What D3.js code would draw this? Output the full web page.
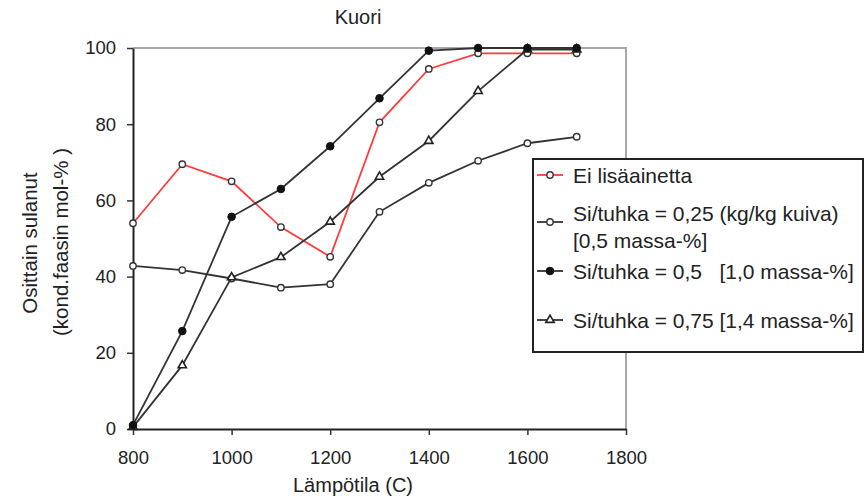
<!DOCTYPE html>
<html>
<head>
<meta charset="utf-8">
<script src="https://cdn.jsdelivr.net/npm/d3@7"></script>
<style>
    body { margin: 0; background: #fff; }
    text { font-family: "Liberation Sans", Arial, sans-serif; fill: #222; }
</style>
</head>
<body>
<div id="draw"></div>
<script>
//数据
var temps = [800, 900, 1000, 1100, 1200, 1300, 1400, 1500, 1600, 1700];
var eiLisa = [54, 69.5, 65, 53, 45.2, 80.5, 94.5, 98.6, 98.6, 98.6];
var si025 = [42.8, 41.7, 39.5, 37.1, 38, 57, 64.6, 70.4, 75, 76.7];
var si05 = [1, 25.7, 55.7, 63, 74.2, 86.8, 99.3, 100, 100, 100];
var si075 = [0.5, 16.7, 39.8, 45.1, 54.4, 66.2, 75.6, 88.7, 99.6, 99.6];
var xTicks = [800, 1000, 1200, 1400, 1600, 1800];
var yTicks = [0, 20, 40, 60, 80, 100];
var legendNames = [
    ["Ei lisäainetta"],
    ["Si/tuhka = 0,25 (kg/kg kuiva)", "[0,5 massa-%]"],
    ["Si/tuhka = 0,5   [1,0 massa-%]"],
    ["Si/tuhka = 0,75 [1,4 massa-%]"]
];

var w = 866, h = 502;
var pLeft = 133, pRight = 626, pTop = 48, pBottom = 429;   //绘图区

var svg = d3.select("#draw").append("svg")
    .attr("width", w)
    .attr("height", h);

var x = d3.scaleLinear().domain([800, 1800]).range([pLeft, pRight]);
var y = d3.scaleLinear().domain([0, 100]).range([pBottom, pTop]);

//外框(灰)
svg.append("path")
    .attr("d", "M" + pLeft + "," + pTop + "H" + pRight + "V" + pBottom)
    .attr("fill", "none")
    .attr("stroke", "#a8a8a8")
    .attr("stroke-width", 2);

//坐标轴
var gx = svg.append("g")
    .attr("transform", "translate(0," + pBottom + ")")
    .call(d3.axisBottom(x).tickValues(xTicks).tickFormat(d3.format("d"))
        .tickSize(6).tickPadding(16).tickSizeOuter(0));
var gy = svg.append("g")
    .attr("transform", "translate(" + pLeft + ",0)")
    .call(d3.axisLeft(y).tickValues(yTicks).tickFormat(d3.format("d"))
        .tickSize(6).tickPadding(11).tickSizeOuter(0));
[gx, gy].forEach(function(g) {
    g.select(".domain").attr("stroke", "#222").attr("stroke-width", 2);
    g.selectAll(".tick line").attr("stroke", "#333").attr("stroke-width", 1.5);
    g.selectAll(".tick text")
        .attr("font-family", "Liberation Sans, Arial, sans-serif")
        .attr("font-size", "18.5px")
        .attr("fill", "#333");
});

//标题
svg.append("text").text("Kuori")
    .attr("x", 358).attr("y", 24)
    .attr("text-anchor", "middle")
    .attr("font-size", "20px");
svg.append("text").text("Lämpötila (C)")
    .attr("x", 353).attr("y", 492)
    .attr("text-anchor", "middle")
    .attr("font-size", "20px");
svg.append("text").text("Osittain sulanut")
    .attr("transform", "translate(37,243) rotate(-90)")
    .attr("text-anchor", "middle")
    .attr("font-size", "20.5px");
svg.append("text").text("(kond.faasin mol-% )")
    .attr("transform", "translate(68,242) rotate(-90)")
    .attr("text-anchor", "middle")
    .attr("font-size", "20.5px");

//系列
var series = [
    { vals: eiLisa, color: "#ff3b3b", marker: "open" },
    { vals: si025, color: "#333", marker: "open" },
    { vals: si05, color: "#333", marker: "filled" },
    { vals: si075, color: "#333", marker: "tri" }
];
var drawOrder = [0, 1, 3, 2];

var line = d3.line()
    .x(function(d) { return x(d[0]); })
    .y(function(d) { return y(d[1]); });

function drawMarker(g, kind) {
    if (kind === "open") {
        g.append("circle").attr("r", 3.2)
            .attr("fill", "#fff").attr("stroke", "#333").attr("stroke-width", 1.4);
    } else if (kind === "filled") {
        g.append("circle").attr("r", 3.8)
            .attr("fill", "#111").attr("stroke", "#111").attr("stroke-width", 1);
    } else {
        g.append("path")
            .attr("d", d3.symbol().type(d3.symbolTriangle).size(30))
            .attr("fill", "#fff").attr("stroke", "#222").attr("stroke-width", 1.6);
    }
}

drawOrder.forEach(function(k) {
    var s = series[k];
    var pts = temps.map(function(t, i) { return [t, s.vals[i]]; });
    svg.append("path")
        .datum(pts)
        .attr("d", line)
        .attr("fill", "none")
        .attr("stroke", s.color)
        .attr("stroke-width", 1.8);
    svg.selectAll(null)
        .data(pts)
        .enter()
        .append("g")
        .attr("transform", function(d) { return "translate(" + x(d[0]) + "," + y(d[1]) + ")"; })
        .each(function() { drawMarker(d3.select(this), s.marker); });
});

//图例
var lg = svg.append("g");
lg.append("rect")
    .attr("x", 533).attr("y", 159)
    .attr("width", 330).attr("height", 193)
    .attr("fill", "#fff")
    .attr("stroke", "#222")
    .attr("stroke-width", 2);
var rowY = [175, 222, 271, 320];
legendNames.forEach(function(names, i) {
    var cy = rowY[i];
    lg.append("line")
        .attr("x1", 537).attr("x2", 563)
        .attr("y1", cy).attr("y2", cy)
        .attr("stroke", series[i].color)
        .attr("stroke-width", 1.8);
    var m = lg.append("g").attr("transform", "translate(550," + cy + ")");
    drawMarker(m, series[i].marker);
    names.forEach(function(nm, j) {
        lg.append("text").text(nm)
            .attr("x", 573)
            .attr("y", names.length === 1 ? cy + 8 : (j === 0 ? 221 : 248))
            .attr("font-size", "21px")
            .style("white-space", "pre");
    });
});
</script>
</body>
</html>
